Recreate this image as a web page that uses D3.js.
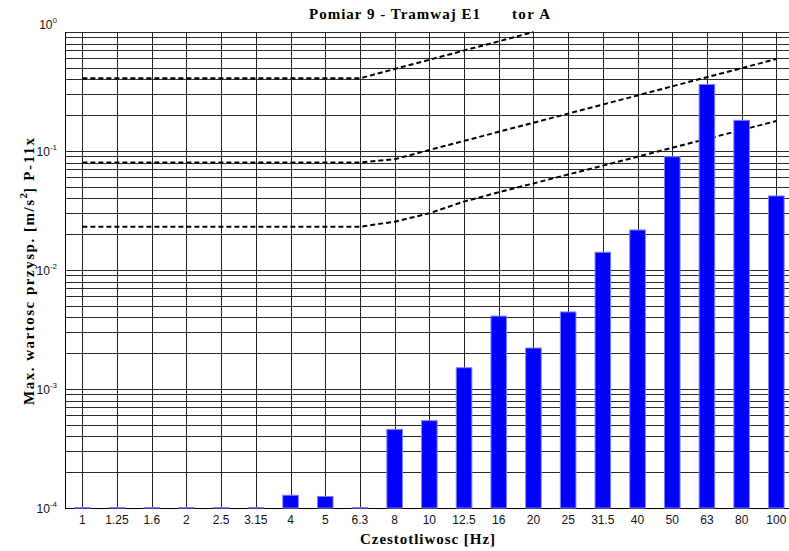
<!DOCTYPE html>
<html>
<head>
<meta charset="utf-8">
<script src="https://cdn.jsdelivr.net/npm/d3@7"></script>
<style>
  body { margin: 0; background: #fff; }
  svg { display: block; }
</style>
</head>
<body>
<script>
var freqs = ['1', '1.25', '1.6', '2', '2.5', '3.15', '4', '5', '6.3', '8', '10',
  '12.5', '16', '20', '25', '31.5', '40', '50', '63', '80', '100'];

// measured max acceleration (bars), the smallest ones sit right on the 1e-4 floor
var accel = [0.000101, 0.000101, 0.000101, 0.000101, 0.000101, 0.000101, 0.000128, 0.000125, 0.000101,
  0.000458, 0.000542, 0.00151, 0.0041, 0.00221, 0.00444, 0.0141, 0.0217,
  0.0895, 0.362, 0.181, 0.0419];

// dashed limit curves
var limitHigh = [0.408, 0.408, 0.408, 0.408, 0.408, 0.408, 0.408, 0.408, 0.408,
  0.489, 0.584, 0.699, 0.835, 1.0];
var limitMid = [0.08, 0.08, 0.08, 0.08, 0.08, 0.08, 0.08, 0.08, 0.08,
  0.0852, 0.102, 0.1216, 0.145, 0.173, 0.206, 0.246, 0.293, 0.350, 0.417, 0.497, 0.593];
var limitLow = [0.0231, 0.0231, 0.0231, 0.0231, 0.0231, 0.0231, 0.0231, 0.0231, 0.0231,
  0.02546, 0.02996, 0.03763, 0.04497, 0.0534, 0.06345, 0.07539, 0.08956,
  0.1064, 0.1264, 0.1502, 0.1787];

var yMajor = [1e-4, 1e-3, 1e-2, 1e-1, 1];
var yExp = ['-4', '-3', '-2', '-1', '0'];

var W = 789, H = 551;
var plotLeft = 65, plotTop = 32, plotBottom = 508, step = 34.7;

var svg = d3.select('body').append('svg')
  .attr('width', W)
  .attr('height', H);

var x = d3.scaleBand()
  .domain(freqs)
  .range([plotLeft, plotLeft + freqs.length * step])
  .padding(0);

var y = d3.scaleLog()
  .domain([1e-4, 1])
  .range([plotBottom, plotTop]);

function cx(d) { return x(d) + x.bandwidth() / 2; }

// grid
var grid = svg.append('g').attr('shape-rendering', 'crispEdges');

grid.selectAll('line.h')
  .data(y.ticks())
  .enter().append('line')
  .attr('class', 'h')
  .attr('x1', plotLeft)
  .attr('x2', W)
  .attr('y1', function(d) { return Math.round(y(d)) + 0.5; })
  .attr('y2', function(d) { return Math.round(y(d)) + 0.5; })
  .style('stroke', '#2a2a2a')
  .style('stroke-width', 1);

grid.selectAll('line.v')
  .data(freqs)
  .enter().append('line')
  .attr('class', 'v')
  .attr('x1', function(d) { return Math.round(cx(d)) + 0.5; })
  .attr('x2', function(d) { return Math.round(cx(d)) + 0.5; })
  .attr('y1', plotTop)
  .attr('y2', plotBottom)
  .style('stroke', '#222')
  .style('stroke-width', 1);

grid.append('line')
  .attr('x1', plotLeft + 0.5).attr('x2', plotLeft + 0.5)
  .attr('y1', plotTop).attr('y2', plotBottom)
  .style('stroke', '#000');

// bottom axis line
grid.append('line')
  .attr('x1', plotLeft).attr('x2', W)
  .attr('y1', plotBottom + 0.5).attr('y2', plotBottom + 0.5)
  .style('stroke', '#000');

// limit curves
var line = d3.line()
  .x(function(d, i) { return cx(freqs[i]); })
  .y(function(d) { return y(d); });

[limitHigh, limitMid, limitLow].forEach(function(arr) {
  svg.append('path')
    .datum(arr)
    .attr('d', line)
    .style('fill', 'none')
    .style('stroke', '#000')
    .style('stroke-width', 2)
    .style('stroke-dasharray', '5,3');
});

// bars
var barW = x.bandwidth() * 0.45;
svg.selectAll('rect.bar')
  .data(accel)
  .enter().append('rect')
  .attr('class', 'bar')
  .attr('x', function(d, i) { return cx(freqs[i]) - barW / 2; })
  .attr('width', barW)
  .attr('y', function(d) { return y(d); })
  .attr('height', function(d) { return plotBottom - y(d); })
  .style('fill', '#0000ff')
  .style('stroke', '#8080ff')
  .style('stroke-width', 1);

// x tick labels
svg.selectAll('text.xt')
  .data(freqs)
  .enter().append('text')
  .attr('class', 'xt')
  .attr('x', cx)
  .attr('y', plotBottom + 16)
  .attr('text-anchor', 'middle')
  .style('font-family', 'Liberation Sans, Arial, sans-serif')
  .style('font-size', '12px')
  .style('fill', '#111')
  .text(function(d) { return d; });

// y tick labels
var yt = svg.selectAll('text.yt')
  .data(yMajor)
  .enter().append('text')
  .attr('class', 'yt')
  .attr('x', 57)
  .attr('y', function(d) { return y(d) + (d === 1 ? -3 : 5); })
  .attr('text-anchor', 'end')
  .style('font-family', 'Liberation Sans, Arial, sans-serif')
  .style('font-size', '12px')
  .style('fill', '#111');
yt.append('tspan').text('10');
yt.append('tspan')
  .attr('dy', -6)
  .style('font-size', '8px')
  .text(function(d, i) { return yExp[i]; });

// title and axis labels
var serif = 'Liberation Serif, Times New Roman, serif';
svg.append('text')
  .attr('x', 309).attr('y', 19)
  .attr('textLength', 171)
  .style('font-family', serif)
  .style('font-weight', 'bold')
  .style('font-size', '15px')
  .text('Pomiar 9 - Tramwaj E1');
svg.append('text')
  .attr('x', 512).attr('y', 19)
  .attr('textLength', 38)
  .style('font-family', serif)
  .style('font-weight', 'bold')
  .style('font-size', '15px')
  .text('tor A');

svg.append('text')
  .attr('x', 360).attr('y', 544)
  .attr('textLength', 135)
  .style('font-family', serif)
  .style('font-weight', 'bold')
  .style('font-size', '15px')
  .text('Czestotliwosc [Hz]');

var yl = svg.append('text')
  .attr('transform', 'translate(34,405) rotate(-90)')
  .style('font-family', serif)
  .style('font-weight', 'bold')
  .style('font-size', '15px');
yl.append('tspan').attr('textLength', 205).text('Max. wartosc przysp. [m/s');
yl.append('tspan').attr('dy', -7).style('font-size', '11px').text('2');
yl.append('tspan').attr('dy', 7).attr('textLength', 55).text(']   P-11x');
</script>
</body>
</html>
